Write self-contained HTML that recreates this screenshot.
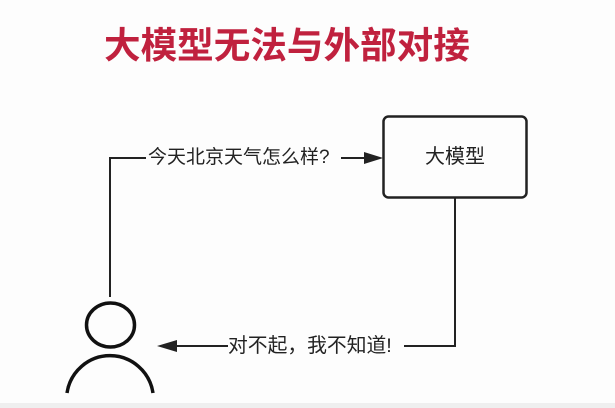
<!DOCTYPE html>
<html><head><meta charset="utf-8"><style>
html,body{margin:0;padding:0;background:#fdfdfd;}
body{width:615px;height:408px;overflow:hidden;position:relative;font-family:"Liberation Sans","Noto Sans CJK SC",sans-serif;}
.t{position:absolute;white-space:nowrap;color:#222;}
</style></head><body>
<div class="t" style="left:104px;top:24px;font-size:36.6px;font-weight:bold;color:#c0213e;line-height:44px;">大模型无法与外部对接</div>
<svg width="615" height="408" style="position:absolute;left:0;top:0">
<rect x="0" y="403" width="615" height="5" fill="#efefef"/>
<rect x="383.5" y="116.5" width="143" height="81" rx="5" fill="none" stroke="#222" stroke-width="2.5"/>
<polyline points="110,297 110,158 146,158" fill="none" stroke="#222" stroke-width="2"/>
<line x1="341" y1="158" x2="366" y2="158" stroke="#222" stroke-width="2"/>
<polygon points="383,158 364,152 364,164" fill="#222"/>
<polyline points="455,198 455,346 404,346" fill="none" stroke="#222" stroke-width="2"/>
<line x1="228" y1="346" x2="172" y2="346" stroke="#222" stroke-width="2"/>
<polygon points="157,346 177,340 177,352" fill="#222"/>
<ellipse cx="110.5" cy="325" rx="24" ry="22" fill="none" stroke="#111" stroke-width="3.5"/>
<path d="M67,393 A43.5,44 0 0 1 153,393" fill="none" stroke="#111" stroke-width="3.5"/>
</svg>
<div class="t" style="left:148px;top:146px;font-size:19px;line-height:24px;">今天北京天气怎么样?</div>
<div class="t" style="left:425px;top:145px;font-size:20px;line-height:24px;">大模型</div>
<div class="t" style="left:228px;top:334px;font-size:19.8px;line-height:24px;">对不起，我不知道!</div>
</body></html>
